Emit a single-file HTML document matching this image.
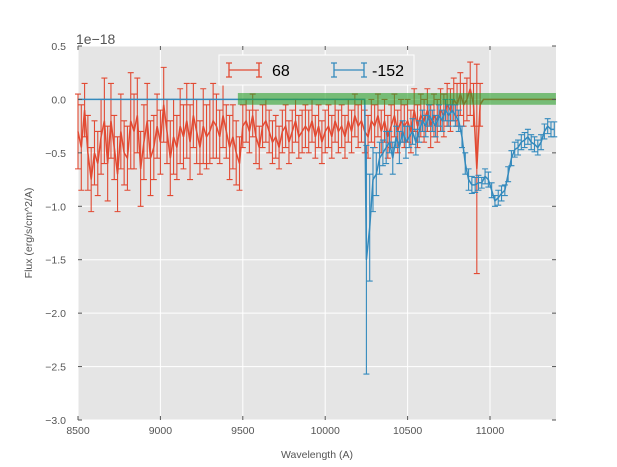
<!DOCTYPE html>
<html><head><meta charset="utf-8"><style>
body{margin:0;background:#fff;}
svg{display:block;font-family:"Liberation Sans",sans-serif;}
</style></head><body>
<svg id="chart" width="617" height="467">
<rect x="78" y="46" width="478" height="374" fill="#e5e5e5"/>
<g id="grid"></g><g id="band"></g><g id="series"></g><g id="axes"></g>
<text x="76" y="44" font-size="14" fill="#555">1e−18</text>
<text x="317" y="458" font-size="10.5" fill="#555" text-anchor="middle">Wavelength (A)</text>
<text transform="translate(32,233) rotate(-90)" font-size="10.5" fill="#555" text-anchor="middle">Flux (erg/s/cm^2/A)</text>
<g>
<rect x="219" y="55" width="195" height="30" fill="#e5e5e5" stroke="#fff" stroke-width="1"/>
<g stroke="#E24A33" stroke-width="1.3" fill="none">
<path d="M229 70 H259 M229 63 V77 M259 63 V77 M226 63 H232 M226 77 H232 M256 63 H262 M256 77 H262"/>
</g>
<text x="272" y="76" font-size="16" fill="#000">68</text>
<g stroke="#348ABD" stroke-width="1.3" fill="none">
<path d="M334 70 H364 M334 63 V77 M364 63 V77 M331 63 H337 M331 77 H337 M361 63 H367 M361 77 H367"/>
</g>
<text x="372" y="76" font-size="16" fill="#000">-152</text>
</g>
</svg>
<script>
const xTicks=[8500,9000,9500,10000,10500,11000];
const yTicks=[0.5,0.0,-0.5,-1.0,-1.5,-2.0,-2.5,-3.0];
const yTickLabels=["0.5","0.0","−0.5","−1.0","−1.5","−2.0","−2.5","−3.0"];
const redStart=8500, redStep=20;
const redVals=[-0.3,-0.45,-0.1,-0.5,-0.75,-0.5,-0.6,-0.35,-0.2,-0.6,
-0.2,-0.45,-0.7,-0.3,-0.5,-0.55,-0.2,-0.3,-0.15,-0.65,
-0.4,-0.2,-0.55,-0.45,-0.25,-0.4,-0.05,-0.3,-0.55,-0.35,
-0.45,-0.25,-0.35,-0.2,-0.4,-0.15,-0.3,-0.45,-0.25,-0.35,
-0.3,-0.2,-0.25,-0.35,-0.15,-0.3,-0.45,-0.35,-0.5,-0.6,
-0.25,-0.2,-0.3,-0.15,-0.35,-0.45,-0.25,-0.2,-0.3,-0.4,
-0.35,-0.45,-0.3,-0.25,-0.4,-0.3,-0.2,-0.35,-0.3,-0.25,
-0.3,-0.2,-0.35,-0.25,-0.4,-0.3,-0.25,-0.35,-0.2,-0.3,
-0.25,-0.35,-0.2,-0.3,-0.15,-0.25,-0.2,-0.3,-0.35,-0.2,
-0.25,-0.15,-0.3,-0.2,-0.35,-0.25,-0.15,-0.3,-0.2,-0.25,
-0.2,-0.3,-0.1,-0.25,-0.15,-0.2,-0.1,-0.25,-0.15,-0.2,
-0.1,-0.15,-0.05,-0.1,0.0,-0.05,0.05,-0.05,0.0,0.1,
-0.05,-0.65,-0.05];
const redErrs=[0.35,0.4,0.25,0.35,0.3,0.3,0.3,0.35,0.4,0.35,
0.35,0.3,0.35,0.35,0.3,0.3,0.45,0.35,0.35,0.35,
0.35,0.35,0.35,0.3,0.3,0.3,0.35,0.3,0.35,0.35,
0.3,0.35,0.3,0.35,0.35,0.3,0.3,0.25,0.35,0.3,
0.3,0.35,0.3,0.25,0.3,0.25,0.3,0.3,0.3,0.25,
0.2,0.2,0.2,0.2,0.25,0.2,0.2,0.2,0.2,0.2,
0.2,0.2,0.2,0.2,0.2,0.2,0.2,0.2,0.2,0.2,
0.2,0.2,0.2,0.2,0.2,0.2,0.2,0.2,0.2,0.2,
0.2,0.2,0.2,0.2,0.2,0.2,0.2,0.2,0.2,0.2,
0.2,0.2,0.2,0.2,0.2,0.2,0.2,0.2,0.2,0.2,
0.2,0.2,0.2,0.2,0.2,0.2,0.2,0.2,0.2,0.2,
0.2,0.2,0.2,0.2,0.2,0.2,0.2,0.2,0.2,0.25,
0.2,0.98,0.2];
const redTailX=[10960,11400];
const redTailVals=[0,0];
const blueX=[10250,10270,10290,10310,10330,10350,10370,10390,10410,10430,10450,10470,10490,10510,10530,10550,10570,10590,10610,10630,10650,10670,10690,10710,10730,10750,10770,10790,10810,10830,10850,10870,10890,10910,10930,10950,10970,10990,11010,11030,11050,11070,11090,11110,11130,11150,11170,11190,11210,11230,11250,11270,11290,11310,11330,11350,11370,11390];
const blueVals=[-1.5,-1.2,-0.75,-0.7,-0.55,-0.5,-0.45,-0.4,-0.55,-0.35,-0.45,-0.3,-0.4,-0.35,-0.3,-0.4,-0.3,-0.2,-0.25,-0.15,-0.2,-0.25,-0.15,-0.2,-0.1,-0.15,-0.1,-0.15,-0.2,-0.35,-0.6,-0.75,-0.8,-0.8,-0.78,-0.78,-0.72,-0.75,-0.85,-0.95,-0.92,-0.88,-0.85,-0.7,-0.55,-0.47,-0.45,-0.4,-0.38,-0.35,-0.4,-0.42,-0.45,-0.4,-0.3,-0.25,-0.28,-0.28];
const blueErrs=[1.07,0.5,0.3,0.2,0.15,0.12,0.15,0.1,0.15,0.1,0.15,0.1,0.15,0.1,0.12,0.12,0.1,0.1,0.1,0.1,0.1,0.1,0.1,0.1,0.1,0.1,0.1,0.1,0.1,0.1,0.1,0.1,0.08,0.07,0.07,0.05,0.07,0.07,0.07,0.05,0.07,0.07,0.05,0.07,0.07,0.07,0.07,0.07,0.07,0.07,0.07,0.07,0.07,0.07,0.07,0.07,0.07,0.07];
const blueLeadX=[8500,10240];
const blueLeadVals=[0,0];
const bandX=[9470,11400];
const bandY=[0.06,-0.05];

const X0=78,X1=556,Y0=46,Y1=420;
const xs=v=>X0+(v-8500)*(412/2500);
const ys=v=>Y0+(0.5-v)*(374/3.5);
const NS="http://www.w3.org/2000/svg";
function mk(parent,tag,attrs){const e=document.createElementNS(NS,tag);for(const k in attrs)e.setAttribute(k,attrs[k]);document.getElementById(parent).appendChild(e);return e;}

xTicks.forEach(t=>{
 const g=mk('grid','line',{x1:xs(t),x2:xs(t),y1:Y0,y2:Y1,stroke:'#fff','stroke-width':1});
 
 
 const tk=mk('axes','line',{x1:xs(t),x2:xs(t),y1:Y1,y2:Y1-4,stroke:'#555'});
 
 
 const tk2=mk('axes','line',{x1:xs(t),x2:xs(t),y1:Y0,y2:Y0+4,stroke:'#555'});
 
 
 const l=mk('axes','text',{x:xs(t),y:Y1+14,'font-size':10.5,fill:'#555','text-anchor':'middle'});
 l.textContent=t;
 
 
});
yTicks.forEach((t,i)=>{
 const g=mk('grid','line',{x1:X0,x2:X1,y1:ys(t),y2:ys(t),stroke:'#fff','stroke-width':1});
 
 
 const tk=mk('axes','line',{x1:X0,x2:X0+4,y1:ys(t),y2:ys(t),stroke:'#555'});
 
 
 const tk2=mk('axes','line',{x1:X1,x2:X1-4,y1:ys(t),y2:ys(t),stroke:'#555'});
 
 
 const l=mk('axes','text',{x:X0-12,y:ys(t)+4,'font-size':10.5,fill:'#555','text-anchor':'end'});
 l.textContent=yTickLabels[i];
 
 
});

function drawSeries(name,color,xArr,vArr,eArr,leadX,leadV,pre){
 const pts=[];
 if(pre) leadX.forEach((x,i)=>pts.push([xs(x),ys(leadV[i])]));
 xArr.forEach((x,i)=>pts.push([xs(x),ys(vArr[i])]));
 if(!pre) leadX.forEach((x,i)=>pts.push([xs(x),ys(leadV[i])]));
 const p=mk('series','polyline',{points:pts.map(q=>q.join(',')).join(' '),fill:'none',stroke:color,'stroke-width':1.5});
 
 
 xArr.forEach((x,i)=>{
  const cx=xs(x),t=ys(vArr[i]+eArr[i]),b=ys(vArr[i]-eArr[i]);
  const e=mk('series','path',{d:`M${cx} ${t}V${b}M${cx-3} ${t}H${cx+3}M${cx-3} ${b}H${cx+3}`,stroke:color,'stroke-width':1.1,fill:'none'});
  
  
 });
}
const redX=redVals.map((_,i)=>redStart+i*redStep);
drawSeries('series-68','#E24A33',redX,redVals,redErrs,redTailX,redTailVals,false);
drawSeries('series-neg152','#348ABD',blueX,blueVals,blueErrs,blueLeadX,blueLeadVals,true);
const band=mk('band','rect',{x:xs(bandX[0]),y:ys(bandY[0]),width:xs(bandX[1])-xs(bandX[0]),height:ys(bandY[1])-ys(bandY[0]),fill:'#2ca02c','fill-opacity':0.6});


document.getElementById('series').after(document.getElementById('band'));
</script>
</body></html>
